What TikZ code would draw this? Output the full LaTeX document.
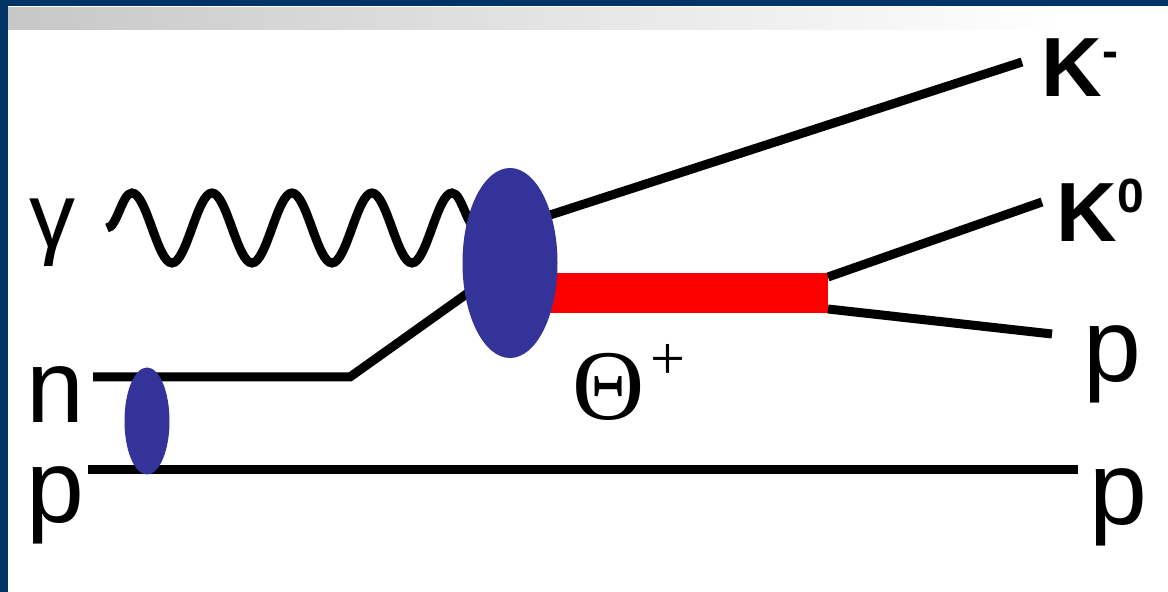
\documentclass[tikz,border=0pt]{standalone}
\usepackage{fontspec}
\setmainfont{Liberation Sans}
\newfontfamily\serifgr{Liberation Serif}
\usetikzlibrary{shapes.geometric, decorations.pathmorphing}
\definecolor{frameblue}{RGB}{0,51,102}
\definecolor{blobblue}{RGB}{51,51,153}
\definecolor{barred}{RGB}{252,0,0}
\newcommand{\kexp}[1]{\raisebox{14.5pt}{\fontsize{24}{24}\selectfont #1}}
\tikzset{
  blob/.style   ={ellipse, fill=blobblue, inner sep=0pt},
  leg/.style    ={line width=4.5pt, black},
  photon/.style ={line width=4.5pt, black, decorate, decoration={snake, segment length=40pt, amplitude=17.5pt}},
  resbar/.style ={line width=20pt, barred},
  plbl/.style   ={font=\fontsize{52}{60}\selectfont, inner sep=0pt},
  klbl/.style   ={font=\fontsize{42}{48}\selectfont\bfseries, inner sep=0pt},
}

\begin{document}
\begin{tikzpicture}[x=0.5pt, y=-0.5pt]
  \useasboundingbox (0,0) rectangle (1168,592);
  % frame
  \fill[white] (0,0) rectangle (1168,592);
  \fill[frameblue] (0,0) rectangle (1168,6);
  \fill[frameblue] (0,0) rectangle (8,592);
  \shade[left color=black!22, right color=white] (8,8) rectangle (1060,30);
  % vertices and free ends
  \coordinate (vc)  at (510,263);
  \coordinate (gs)  at (107,228);
  \coordinate (gv)  at (510,228);
  \coordinate (nin) at (93,377);
  \coordinate (nk)  at (350,377);
  \coordinate (pin) at (88,470);
  \coordinate (pout) at (1078,470);
  \coordinate (tb)  at (510,293);
  \coordinate (tv)  at (828,293);
  \coordinate (tvu) at (828,277);
  \coordinate (tvd) at (828,309);
  \coordinate (kme) at (1022,62);
  \coordinate (k0e) at (1042,202);
  \coordinate (pde) at (1052,334);
  % lines
  \draw[photon] (gs) -- (gv);
  \draw[leg] (gv) -- (kme);
  \draw[leg] (nin) -- (nk) -- (vc);
  \draw[leg] (pin) -- (pout);
  \draw[resbar] (tb) -- (tv);
  \draw[leg] (tvu) -- (k0e);
  \draw[leg] (tvd) -- (pde);
  % blobs
  \node[blob, minimum width=47.5pt, minimum height=95pt] (v) at (vc) {};
  \node[blob, minimum width=22.5pt, minimum height=53.5pt] (d) at (147,421) {};
  % labels
  \node[plbl, font=\fontsize{46}{56}\selectfont] (gam) at (53,233) {γ};
  \node[plbl, anchor=base west] (nlbl) at (26,423) {n};
  \node[plbl, anchor=base west] (plbl) at (26,523) {p};
  \node[plbl, anchor=base west] (pdlbl) at (1083,382) {p};
  \node[plbl, anchor=base west] (prlbl) at (1089,525) {p};
  \node[klbl, anchor=base west] (kmlbl) at (1041,97) {K\kexp{-}};
  \node[klbl, anchor=base west] (k0lbl) at (1056,242) {K\kexp{0}};
  \node[inner sep=0pt, anchor=base west, font=\serifgr\fontsize{50}{60}\selectfont] (thlbl) at (572,420)
    {Θ\kern3pt\raisebox{20pt}{\fontsize{31}{31}\selectfont +}};
\end{tikzpicture}
\end{document}
